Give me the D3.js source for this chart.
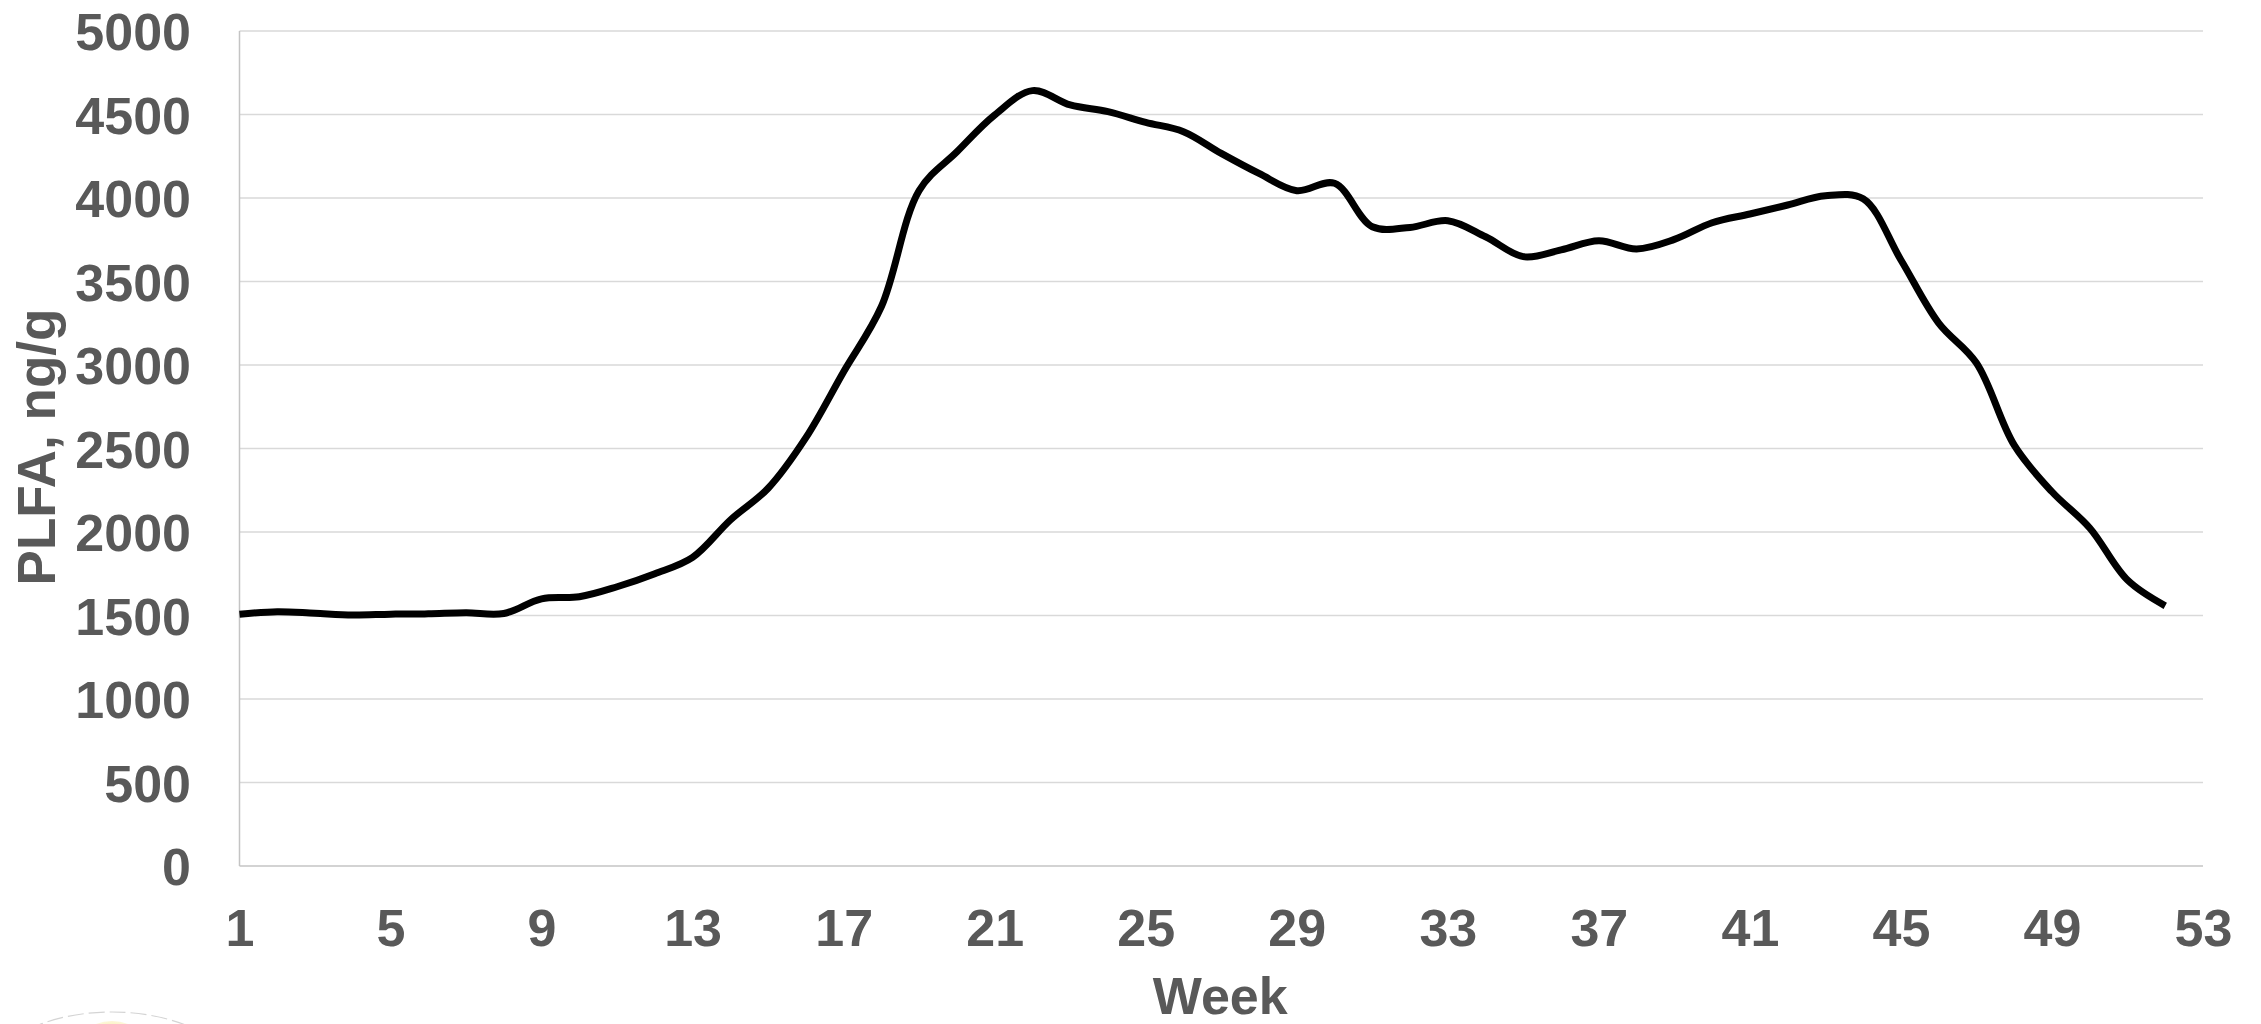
<!DOCTYPE html>
<html>
<head>
<meta charset="utf-8">
<script src="https://cdn.jsdelivr.net/npm/d3@7/dist/d3.min.js"></script>
<style>
  html, body { margin: 0; padding: 0; background: #ffffff; }
  svg { display: block; }
  text { font-family: "Liberation Sans", Arial, "DejaVu Sans", sans-serif; font-weight: bold; fill: #595959; }
</style>
</head>
<body>
<svg id="chart" width="2261" height="1024"></svg>
<script>
// Weekly PLFA concentration (ng/g)
const weeks = [1, 2, 3, 4, 5, 6, 7, 8, 9, 10, 11, 12, 13, 14, 15, 16, 17, 18, 19, 20,
               21, 22, 23, 24, 25, 26, 27, 28, 29, 30, 31, 32, 33, 34, 35, 36, 37, 38, 39, 40,
               41, 42, 43, 44, 45, 46, 47, 48, 49, 50, 51, 52];
const plfa = [1507, 1523, 1513, 1503, 1508, 1510, 1516, 1512, 1600, 1612,
              1672, 1750, 1848, 2072, 2262, 2565, 2960, 3350, 4045, 4277,
              4497, 4643, 4557, 4517, 4453, 4397, 4267, 4147, 4044, 4088,
              3828, 3824, 3864, 3768, 3649, 3689, 3744, 3695, 3752, 3852,
              3904, 3958, 4013, 3995, 3629, 3251, 3012, 2520, 2241, 2024,
              1712, 1558];
const yTickValues = [0, 500, 1000, 1500, 2000, 2500, 3000, 3500, 4000, 4500, 5000];
const xTickValues = [1, 5, 9, 13, 17, 21, 25, 29, 33, 37, 41, 45, 49, 53];
const xTitle = "Week";
const yTitle = "PLFA, ng/g";

const svg = d3.select("#chart");
const plotLeft = 239.5, plotRight = 2203, plotTop = 31, plotBottom = 866;

const x = d3.scaleLinear().domain([1, 53]).range([plotLeft, plotRight]);
const y = d3.scaleLinear().domain([0, 5000]).range([plotBottom, plotTop]);

// horizontal gridlines
svg.append("g")
  .selectAll("line")
  .data(yTickValues.filter(v => v > 0))
  .join("line")
  .attr("x1", plotLeft).attr("x2", plotRight)
  .attr("y1", d => y(d)).attr("y2", d => y(d))
  .attr("stroke", "#d9d9d9")
  .attr("stroke-width", 1.5);

// axis lines
svg.append("line")
  .attr("x1", plotLeft).attr("x2", plotLeft).attr("y1", plotTop).attr("y2", plotBottom)
  .attr("stroke", "#c4c4c4").attr("stroke-width", 1.5);
svg.append("line")
  .attr("x1", plotLeft).attr("x2", plotRight).attr("y1", plotBottom).attr("y2", plotBottom)
  .attr("stroke", "#c4c4c4").attr("stroke-width", 1.5);

// y axis labels
const yAxis = svg.append("g")
  .attr("transform", `translate(${plotLeft},0)`)
  .call(d3.axisLeft(y).tickValues(yTickValues).tickSize(0).tickPadding(48.5).tickFormat(d3.format("d")));
yAxis.select(".domain").remove();
yAxis.selectAll("text")
  .attr("dy", "0.36em")
  .style("font-size", "52px")
  .style("font-family", "'Liberation Sans', Arial, sans-serif")
  .style("font-weight", "bold")
  .attr("fill", "#595959");

// x axis labels
const xAxis = svg.append("g")
  .attr("transform", `translate(0,${plotBottom})`)
  .call(d3.axisBottom(x).tickValues(xTickValues).tickSize(0).tickPadding(43).tickFormat(d3.format("d")));
xAxis.select(".domain").remove();
xAxis.selectAll("text")
  .attr("dy", "0.71em")
  .style("font-size", "52px")
  .style("font-family", "'Liberation Sans', Arial, sans-serif")
  .style("font-weight", "bold")
  .attr("fill", "#595959");

// axis titles
svg.append("text")
  .attr("x", (plotLeft + plotRight) / 2 - 1)
  .attr("y", 1014)
  .attr("text-anchor", "middle")
  .style("font-size", "52px")
  .text(xTitle);

svg.append("text")
  .attr("transform", "translate(55,447) rotate(-90)")
  .attr("text-anchor", "middle")
  .style("font-size", "53px")
  .text(yTitle);

// smoothed series line
const line = d3.line()
  .x((d, i) => x(weeks[i]))
  .y(d => y(d))
  .curve(d3.curveCatmullRom.alpha(0.5));

svg.append("path")
  .datum(plfa)
  .attr("fill", "none")
  .attr("stroke", "#000000")
  .attr("stroke-width", 7)
  .attr("stroke-linejoin", "round")
  .attr("d", line);

// faint badge peeking in at the lower-left edge
const defs = svg.append("defs");
const grad = defs.append("radialGradient").attr("id", "badgeGlow")
  .attr("cx", "50%").attr("cy", "30%").attr("r", "50%");
grad.append("stop").attr("offset", "0%").attr("stop-color", "#f5dc5a");
grad.append("stop").attr("offset", "40%").attr("stop-color", "#faeca6");
grad.append("stop").attr("offset", "100%").attr("stop-color", "#ffffff").attr("stop-opacity", 0);
svg.append("ellipse")
  .attr("cx", 112).attr("cy", 1080).attr("rx", 125).attr("ry", 68)
  .attr("fill", "#ffffff")
  .attr("stroke", "#d4d4d4")
  .attr("stroke-width", 1.2)
  .attr("stroke-dasharray", "16 5");
svg.append("ellipse")
  .attr("cx", 112).attr("cy", 1064).attr("rx", 44).attr("ry", 43)
  .attr("fill", "url(#badgeGlow)");
</script>
</body>
</html>
